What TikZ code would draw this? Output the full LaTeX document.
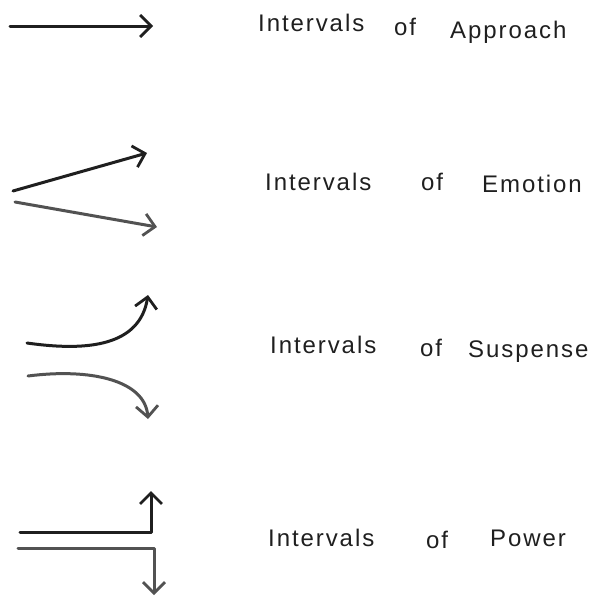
\documentclass[tikz,border=0pt]{standalone}
\usepackage{fontspec}
\setmainfont{Liberation Sans}
\usetikzlibrary{arrows.meta}
\begin{document}
\begin{tikzpicture}[x=1pt,y=-1pt,
  stroke/.style={line width=3pt,draw=black!88,line cap=round,line join=round,
    -{Straight Barb[length=11pt,width=22pt,line width=2.8pt]}},
  lightstroke/.style={stroke,draw=black!68},
  word/.style={anchor=base west,font=\fontsize{24}{28}\selectfont\addfontfeatures{LetterSpace=8},text=black!88,inner sep=0pt}]
\useasboundingbox (0,0) rectangle (593,597);
% Approach
\coordinate (a1) at (10,26);
\coordinate (a2) at (153,26);
\draw[stroke] (a1) -- (a2);
\node[word] (ta1) at (258,31) {Intervals};
\node[word] (ta2) at (394,35) {of};
\node[word] (ta3) at (450,38) {Approach};
% Emotion
\coordinate (e0) at (13,191);
\coordinate (e1) at (147,153);
\coordinate (f0) at (15,202);
\coordinate (f1) at (157,227);
\draw[stroke] (e0) -- (e1);
\draw[lightstroke] (f0) -- (f1);
\node[word] (te1) at (265,190) {Intervals};
\node[word] (te2) at (421,190) {of};
\node[word] (te3) at (482,192) {Emotion};
% Suspense
\coordinate (s0) at (27,343);
\coordinate (s1) at (148,295);
\coordinate (u0) at (28,376);
\coordinate (u1) at (148,419);
\draw[stroke] (s0) .. controls (90,352) and (140,345) .. (s1);
\draw[lightstroke] (u0) .. controls (90,368) and (145,380) .. (u1);
\node[word] (ts1) at (270,353) {Intervals};
\node[word] (ts2) at (420,356) {of};
\node[word] (ts3) at (468,357) {Suspense};
% Power
\coordinate (p0) at (20,532);
\coordinate (p1) at (151,532);
\coordinate (p2) at (151,491);
\coordinate (q0) at (18,548);
\coordinate (q1) at (154,548);
\coordinate (q2) at (154,595);
\draw[stroke] (p0) -- (p1) -- (p2);
\draw[lightstroke] (q0) -- (q1) -- (q2);
\node[word] (tp1) at (268,546) {Intervals};
\node[word] (tp2) at (426,548) {of};
\node[word] (tp3) at (490,546) {Power};
\end{tikzpicture}
\end{document}
